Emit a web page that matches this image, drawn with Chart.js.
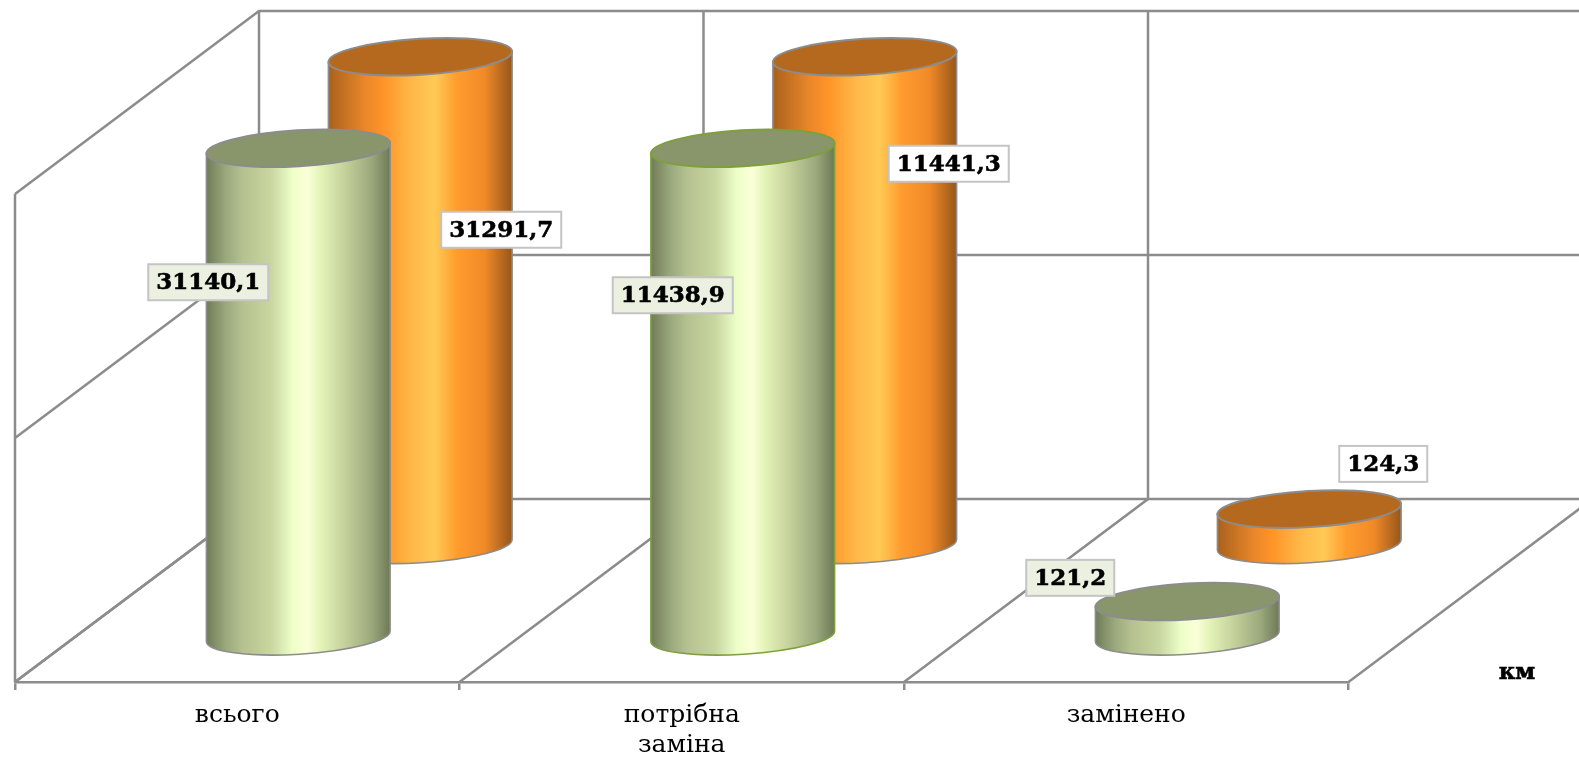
<!DOCTYPE html>
<html>
<head>
<meta charset="utf-8">
<title>Chart</title>
<script src="https://cdn.jsdelivr.net/npm/chart.js@4/dist/chart.umd.min.js"></script>
<style>
  html, body { margin: 0; padding: 0; background: #fff; overflow: hidden; }
  canvas { display: block; }
</style>
</head>
<body>
<canvas id="pipeChart" width="1579" height="757"></canvas>
<script>
// chart data
const categories = [['всього'], ['потрібна', 'заміна'], ['замінено']];
const frontSeries = [31140.1, 11438.9, 121.2];
const backSeries = [31291.7, 11441.3, 124.3];
const valueTicks = [0, 850, 1700];
const unitLabel = 'км';

const LINE = '#8c8c8c';
const DEPTH = { x: 244, y: -183 };
const TILT = -3.4 * Math.PI / 180;
const MINOR = 18;

function wallLine(ctx, points) {
  ctx.beginPath();
  points.forEach((p, i) => i ? ctx.lineTo(p[0], p[1]) : ctx.moveTo(p[0], p[1]));
  ctx.stroke();
}

// side wall, back wall and floor, all hung off the chart's own scales
const wallsPlugin = {
  id: 'walls',
  beforeDatasetsDraw(chart) {
    const { ctx, scales: { x, y } } = chart;
    const left = x.left, bottom = y.bottom;
    ctx.save();
    ctx.strokeStyle = LINE;
    ctx.lineWidth = 2.5;
    wallLine(ctx, [[left, y.top], [left, bottom]]);
    valueTicks.forEach(v => {
      const py = y.getPixelForValue(v);
      wallLine(ctx, [[left, py], [left + DEPTH.x, py + DEPTH.y], [x.right + DEPTH.x, py + DEPTH.y]]);
    });
    categories.concat([null]).forEach((c, i) => {
      const px = left + i * (x.width / categories.length);
      wallLine(ctx, [[px, bottom], [px + DEPTH.x, bottom + DEPTH.y], [px + DEPTH.x, y.top + DEPTH.y]]);
    });
    ctx.restore();
  }
};

// bars become tilted cylinders standing at a fraction of the floor depth
const cylinderPlugin = {
  id: 'cylinders',
  beforeDatasetDraw(chart, args) {
    const { ctx, chartArea } = chart;
    const ds = chart.data.datasets[args.index];
    const dx = DEPTH.x * ds.depthAt, dy = DEPTH.y * ds.depthAt;
    args.meta.data.forEach(el => {
      const a = el.width / 2;
      const cx = el.x + dx;
      const baseY = el.base + dy;
      const topY = Math.max(el.y, chartArea.top) + dy;
      const ex = a * Math.cos(TILT), ey = a * Math.sin(TILT);
      const grad = ctx.createLinearGradient(cx - a, 0, cx + a, 0);
      ds.bodyStops.forEach(s => grad.addColorStop(s[0], s[1]));

      ctx.save();
      ctx.lineWidth = 1.6;
      ctx.strokeStyle = el.options.borderColor;
      ctx.beginPath();
      ctx.ellipse(cx, baseY, a, MINOR, TILT, Math.PI, 0, true);
      ctx.lineTo(cx + ex, topY + ey);
      ctx.lineTo(cx - ex, topY - ey);
      ctx.closePath();
      ctx.fillStyle = grad;
      ctx.fill();
      ctx.stroke();

      ctx.beginPath();
      ctx.ellipse(cx, topY, a, MINOR, TILT, 0, Math.PI * 2);
      ctx.fillStyle = ds.capColor;
      ctx.fill();
      ctx.lineWidth = 2;
      ctx.stroke();
      ctx.restore();
    });
    return false;
  },
  afterDatasetsDraw(chart) {
    const { ctx, chartArea } = chart;
    ctx.save();
    ctx.font = 'bold 23px "DejaVu Serif"';
    ctx.textAlign = 'center';
    ctx.textBaseline = 'middle';
    chart.data.datasets.forEach((ds, d) => {
      chart.getDatasetMeta(d).data.forEach((el, i) => {
        const topY = Math.max(el.y, chartArea.top);
        const cx = el.x + DEPTH.x * ds.depthAt + ds.labelShift[i][0];
        const cy = (topY + el.base) / 2 + DEPTH.y * ds.depthAt + ds.labelShift[i][1];
        const text = ds.data[i].toFixed(1).replace('.', ',');
        const w = ctx.measureText(text).width + 16;
        ctx.fillStyle = ds.labelFill;
        ctx.strokeStyle = '#c4c4c4';
        ctx.lineWidth = 2;
        ctx.fillRect(cx - w / 2, cy - 18, w, 36);
        ctx.strokeRect(cx - w / 2, cy - 18, w, 36);
        ctx.fillStyle = '#000';
        ctx.strokeStyle = '#000';
        ctx.lineWidth = 0.6;
        ctx.fillText(text, cx, cy + 1);
        ctx.strokeText(text, cx, cy + 1);
      });
    });
    ctx.font = 'bold 23px "DejaVu Serif"';
    ctx.fillText(unitLabel, 1517, 673);
    ctx.strokeText(unitLabel, 1517, 673);
    ctx.restore();
  }
};

new Chart(document.getElementById('pipeChart'), {
  type: 'bar',
  data: {
    labels: categories,
    datasets: [
      {
        data: frontSeries,
        grouped: false,
        barThickness: 184,
        backgroundColor: '#c3d09b',
        borderColor: ['#8c8c8c', '#7f9f3c', '#8c8c8c'],
        capColor: '#89966b',
        labelFill: '#ebf0e0',
        depthAt: 0.25,
        labelShift: [[-90, -110], [-70, -97], [-117, -41]],
        bodyStops: [[0, '#6f7b57'], [0.1, '#98a67b'], [0.2, '#b5c290'], [0.35, '#c8d6a0'], [0.47, '#eeffc8'],
                    [0.55, '#fbffd8'], [0.62, '#e4f4b8'], [0.75, '#c5d29c'], [0.9, '#9aa87c'], [1, '#6d7955']]
      },
      {
        data: backSeries,
        grouped: false,
        barThickness: 184,
        backgroundColor: '#ff9428',
        borderColor: '#8c8c8c',
        capColor: '#b4691f',
        labelFill: '#ffffff',
        depthAt: 0.75,
        labelShift: [[81, -71], [84, -137], [74, -63]],
        bodyStops: [[0, '#a9611d'], [0.2, '#e9872a'], [0.3, '#ff9428'], [0.45, '#ffb848'],
                    [0.58, '#ffc955'], [0.7, '#ff9c2e'], [0.85, '#f08a28'], [1, '#96561a']]
      }
    ]
  },
  options: {
    responsive: false,
    animation: false,
    layout: { padding: { left: 15, right: 230.5, top: 194, bottom: 0 } },
    plugins: { legend: { display: false }, tooltip: { enabled: false } },
    scales: {
      x: {
        type: 'category',
        afterFit(scale) { scale.height = 75; },
        grid: { drawOnChartArea: false, color: LINE, lineWidth: 2.5, tickLength: 8 },
        border: { color: LINE, width: 2.5 },
        ticks: {
          color: '#000',
          padding: 10,
          maxRotation: 0,
          autoSkip: false,
          font: { family: '"DejaVu Serif"', size: 25, lineHeight: 1.22 }
        }
      },
      y: {
        display: false,
        min: valueTicks[0],
        max: valueTicks[valueTicks.length - 1],
        ticks: { stepSize: valueTicks[1] - valueTicks[0] }
      }
    }
  },
  plugins: [wallsPlugin, cylinderPlugin]
});
</script>
</body>
</html>
